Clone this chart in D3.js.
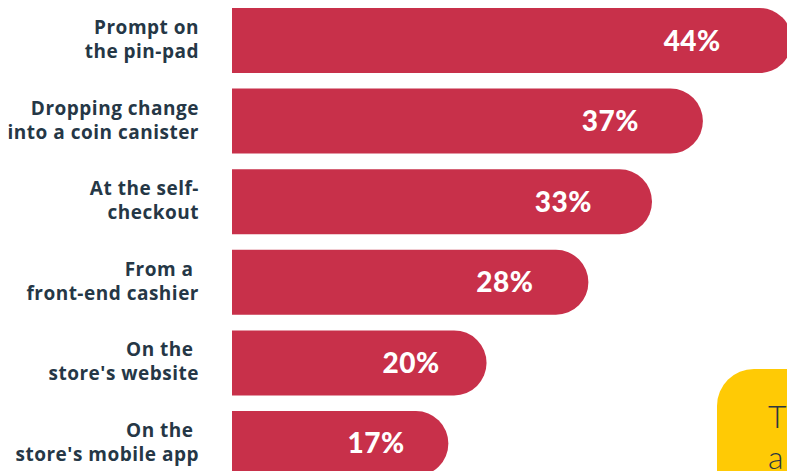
<!DOCTYPE html>
<html><head><meta charset="utf-8">
<script src="https://cdn.jsdelivr.net/npm/d3@7"></script>
<style>
html,body{margin:0;padding:0;background:#fff;overflow:hidden;}
svg{display:block;}
text{white-space:pre;}
</style></head>
<body>
<script>
const categories = ["Prompt on the pin-pad","Dropping change into a coin canister","At the self-checkout","From a front-end cashier","On the store's website","On the store's mobile app"];
const labelLines = [["Prompt on","the pin-pad"],["Dropping change","into a coin canister"],["At the self-","checkout"],["From a ","front-end cashier"],["On the ","store's website"],["On the ","store's mobile app"]];
const values = [44,37,33,28,20,17];
const calloutLines = ["T","a"];

const W=787,H=471;
const svg=d3.select("body").append("svg").attr("width",W).attr("height",H);
const x=d3.scaleLinear().domain([0,44]).range([232,792]);
const y=d3.scaleBand().domain(categories).range([8,476]).paddingInner(0.1935).paddingOuter(0);
const bw=y.bandwidth();
const barColor="#C8304A", labelColor="#253746";

function barPath(x0,x1,y0,h){
  const r=h/2;
  const p=d3.path();
  p.moveTo(x0,y0);
  p.lineTo(x1-r,y0);
  p.arc(x1-r,y0+r,r,-Math.PI/2,Math.PI/2);
  p.lineTo(x0,y0+h);
  p.closePath();
  return p.toString();
}

const g=svg.append("g");
categories.forEach((c,i)=>{
  const y0=y(c), x0=x(0), x1=x(values[i]);
  g.append("path").attr("d",barPath(x0,x1,y0,bw)).attr("fill",barColor);
  const w=x1-x0;
  g.append("text").attr("x",x0+0.92*w-55).attr("y",y0+bw/2+10)
    .attr("text-anchor","middle").attr("fill","#fff")
    .attr("font-family","Lato, sans-serif").attr("font-weight",900).attr("font-size",28)
    .attr("letter-spacing",0.5)
    .text(values[i]+"%");
  const t=g.append("text").attr("text-anchor","end").attr("fill",labelColor)
    .attr("font-family","'Open Sans', sans-serif").attr("font-weight",700).attr("font-size",19)
    .attr("letter-spacing",0.5);
  labelLines[i].forEach((ln,j)=>{
    t.append("tspan").attr("x",199).attr("y",y0+26+j*24).text(ln);
  });
});

// callout box
const cx=717, cy=369, cr=37;
const cp=d3.path();
cp.moveTo(cx,H+10); cp.lineTo(cx,cy+cr); cp.arcTo(cx,cy,cx+cr,cy,cr); cp.lineTo(W+10,cy); cp.lineTo(W+10,H+10); cp.closePath();
svg.append("path").attr("d",cp.toString()).attr("fill","#FFCA05");
const ct=svg.append("text").attr("fill","#2B3640").attr("font-family","Lato, sans-serif").attr("font-weight",300).attr("font-size",32);
calloutLines.forEach((ln,j)=>ct.append("tspan").attr("x",768).attr("y",428+j*41).text(ln));
</script>
</body></html>
